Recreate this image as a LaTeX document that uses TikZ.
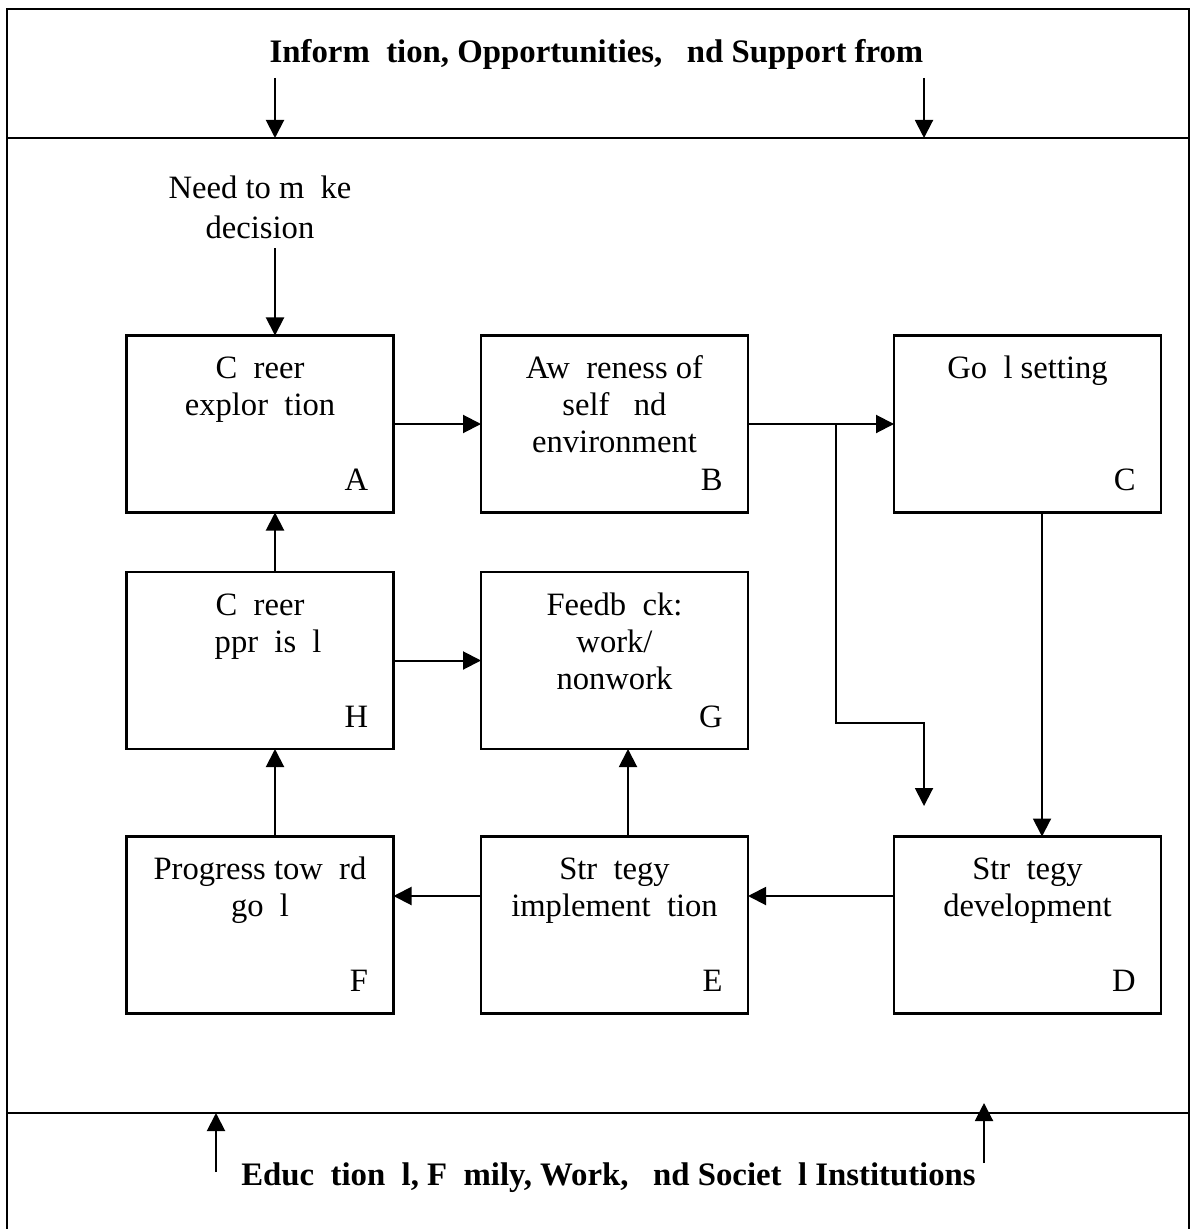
\documentclass[tikz,border=0pt]{standalone}
\usepackage{fontspec}
\setmainfont{Liberation Serif}
\usetikzlibrary{arrows.meta}
\begin{document}
\begin{tikzpicture}[x=0.5pt,y=-0.5pt,
  box/.style={draw, line width=1.3pt, minimum width=133.5pt, minimum height=88.5pt, inner sep=0pt, outer sep=0pt},
  boxtext/.style={anchor=north, align=center, inner sep=0pt, font=\fontsize{16.3}{18.5}\selectfont},
  needtext/.style={anchor=north, align=center, inner sep=0pt, font=\fontsize{16.3}{20}\selectfont},
  letter/.style={anchor=base east, inner sep=0pt, font=\fontsize{16.3}{18.5}\selectfont},
  arr/.style={-{Triangle[length=9pt,width=9pt]}, line width=1pt},
  frame/.style={line width=1.3pt},
  head/.style={font=\bfseries\fontsize{16.4}{20}\selectfont, inner sep=0pt, anchor=base}]
\useasboundingbox (0,0) rectangle (1192,1229);

% frame and bands
\draw[frame] (7,1229) -- (7,9) -- (1189,9) -- (1189,1229);
\draw[frame] (7,138) -- (1189,138);
\draw[frame] (7,1113) -- (1189,1113);

% headings
\node[head] (top) at (596.5,63) {Inform~ tion, Opportunities,~~ nd Support from};
\node[head] (bot) at (608.5,1185) {Educ~ tion~ l, F~ mily, Work,~~ nd Societ~ l Institutions};

% band arrows
\coordinate (t1s) at (275,78);  \coordinate (t1e) at (275,138);
\coordinate (t2s) at (924,78);  \coordinate (t2e) at (924,138);
\coordinate (b1s) at (216,1172); \coordinate (b1e) at (216,1113);
\coordinate (b2s) at (984,1163); \coordinate (b2e) at (984,1103);
\draw[arr] (t1s) -- (t1e);
\draw[arr] (t2s) -- (t2e);
\draw[arr] (b1s) -- (b1e);
\draw[arr] (b2s) -- (b2e);

% boxes
\node[box] (A) at (260,424) {};
\node[box] (B) at (614.5,424) {};
\node[box] (C) at (1027.5,424) {};
\node[box] (H) at (260,660.5) {};
\node[box] (G) at (614.5,660.5) {};
\node[box] (F) at (260,925) {};
\node[box] (E) at (614.5,925) {};
\node[box] (D) at (1027.5,925) {};

% box texts
\node[boxtext] (At) at ([yshift=-8.5pt]A.north) {\strut C~ reer\\explor~ tion};
\node[boxtext] (Bt) at ([yshift=-8.5pt]B.north) {\strut Aw~ reness of\\self~~ nd\\environment};
\node[boxtext] (Ct) at ([yshift=-8.5pt]C.north) {\strut Go~ l setting};
\node[boxtext] (Ht) at ([yshift=-8.5pt]H.north) {\strut C~ reer\\~ ppr~ is~ l};
\node[boxtext] (Gt) at ([yshift=-8.5pt]G.north) {\strut Feedb~ ck:\\work/\\nonwork};
\node[boxtext] (Ft) at ([yshift=-8.5pt]F.north) {\strut Progress tow~ rd\\go~ l};
\node[boxtext] (Et) at ([yshift=-8.5pt]E.north) {\strut Str~ tegy\\implement~ tion};
\node[boxtext] (Dt) at ([yshift=-8.5pt]D.north) {\strut Str~ tegy\\development};

% letters
\node[letter] (Al) at ([xshift=-12.5pt,yshift=11pt]A.south east) {A};
\node[letter] (Bl) at ([xshift=-12.5pt,yshift=11pt]B.south east) {B};
\node[letter] (Cl) at ([xshift=-12.5pt,yshift=11pt]C.south east) {C};
\node[letter] (Hl) at ([xshift=-12.5pt,yshift=11pt]H.south east) {H};
\node[letter] (Gl) at ([xshift=-12.5pt,yshift=11pt]G.south east) {G};
\node[letter] (Fl) at ([xshift=-12.5pt,yshift=11pt]F.south east) {F};
\node[letter] (El) at ([xshift=-12.5pt,yshift=11pt]E.south east) {E};
\node[letter] (Dl) at ([xshift=-12.5pt,yshift=11pt]D.south east) {D};

% need to make decision
\node[needtext] (need) at (260,170) {\strut Need to m~ ke\\decision};
\draw[arr] ([xshift=7.5pt,yshift=-4.5pt]need.south) -- ([xshift=7.5pt]A.north);

% connectors
\draw[arr] (A.east) -- (B.west);
\draw[arr] (B.east) -- (C.west);
\coordinate (split) at (836,424);
\coordinate (dropend) at (924,806);
\draw[arr] (split) -- ++(0,299) -| (dropend);
\draw[arr] ([xshift=7.25pt]C.south) -- ([xshift=7.25pt]D.north);
\draw[arr] ([yshift=14.5pt]D.west) -- ([yshift=14.5pt]E.east);
\draw[arr] ([yshift=14.5pt]E.west) -- ([yshift=14.5pt]F.east);
\draw[arr] ([xshift=7.5pt]F.north) -- ([xshift=7.5pt]H.south);
\draw[arr] ([xshift=7.5pt]H.north) -- ([xshift=7.5pt]A.south);
\draw[arr] ([xshift=6.75pt]E.north) -- ([xshift=6.75pt]G.south);
\draw[arr] (H.east) -- (G.west);
\end{tikzpicture}
\end{document}
